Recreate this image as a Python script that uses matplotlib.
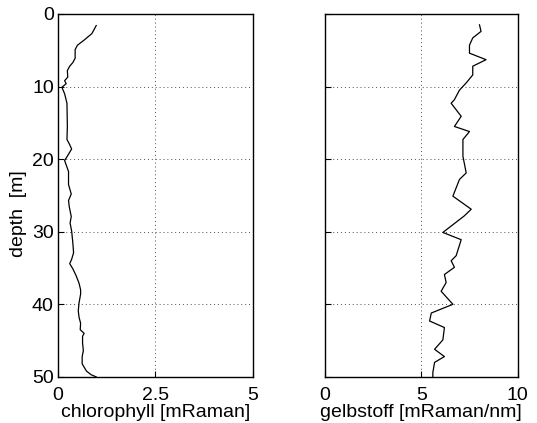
import numpy as np
import matplotlib.pyplot as plt

plt.rcParams['font.family'] = ['Liberation Sans', 'DejaVu Sans']

# chlorophyll profile [mRaman] vs depth [m]
chl_depth = [1.6, 2.7, 3.6, 4.3, 4.9, 6.1, 6.7, 7.2, 7.8, 8.7, 9.2, 9.6, 10.1, 11.0, 12.3,
             15.5, 17.3, 17.9, 18.6, 19.5, 20.2, 20.8, 21.7, 23.5, 24.8, 25.7, 26.6, 27.9,
             28.8, 29.9, 31.5, 32.9, 33.8, 34.4, 35.1, 36.0, 37.1, 38.0, 38.6, 39.8, 40.9,
             41.8, 42.6, 43.5, 44.0, 44.4, 45.3, 46.4, 47.2, 48.2, 49.2, 49.7, 50.0]
chl_val = [0.98, 0.87, 0.67, 0.50, 0.44, 0.44, 0.38, 0.30, 0.24, 0.25, 0.17, 0.21, 0.10, 0.17, 0.23,
           0.24, 0.23, 0.29, 0.35, 0.25, 0.17, 0.21, 0.27, 0.27, 0.34, 0.27, 0.29, 0.34,
           0.31, 0.35, 0.38, 0.40, 0.35, 0.30, 0.38, 0.46, 0.54, 0.58, 0.58, 0.54, 0.52,
           0.54, 0.58, 0.57, 0.67, 0.63, 0.63, 0.65, 0.62, 0.62, 0.73, 0.85, 0.98]

# gelbstoff profile [mRaman/nm] vs depth [m]
gelb_depth = [1.5, 2.4, 3.3, 4.3, 5.4, 6.3, 7.2, 8.4, 9.5, 10.5, 11.8, 12.3, 14.1, 15.5,
              16.2, 17.3, 19.6, 21.9, 22.8, 25.1, 26.9, 27.8, 30.1, 31.1, 33.3, 34.0,
              34.9, 35.9, 37.0, 38.2, 40.0, 41.2, 42.3, 43.2, 44.9, 46.2, 47.2, 48.0,
              49.4, 50.0]
gelb_val = [8.02, 8.10, 7.67, 7.50, 7.50, 8.36, 7.67, 7.67, 7.33, 6.98, 6.72, 6.55, 7.07, 6.72,
            7.50, 7.16, 7.16, 7.33, 6.98, 6.64, 7.59, 7.24, 6.12, 7.07, 6.81, 6.55,
            6.72, 6.20, 6.29, 6.03, 6.64, 5.52, 5.43, 6.20, 6.12, 5.69, 6.20, 5.69,
            5.60, 5.60]

depth_ticks = [0, 10, 20, 30, 40, 50]
chl_ticks = [0, 2.5, 5]
gelb_ticks = [0, 5, 10]

fig = plt.figure(figsize=(5.37, 4.23), dpi=100)
ax1 = fig.add_axes([0.108, 0.109, 0.363, 0.858])
ax2 = fig.add_axes([0.605, 0.109, 0.359, 0.858])

for ax in (ax1, ax2):
    ax.set_ylim(50, 0)
    ax.set_yticks(depth_ticks)
    ax.tick_params(direction='in', labelsize=14, length=4, width=0.8)
    ax.tick_params(axis='x', pad=7)
    ax.tick_params(axis='y', pad=3)
    ax.grid(True, linestyle=(0, (1, 3)), color='0.3', linewidth=0.7)
    for s in ax.spines.values():
        s.set_linewidth(1.0)

ax1.plot(chl_val, chl_depth, 'k-', linewidth=0.9)
ax1.set_xlim(0, 5)
ax1.set_xticks(chl_ticks)
ax1.set_xticklabels(['0', '2.5', '5'])
ax1.set_xlabel('chlorophyll [mRaman]', fontsize=14, labelpad=0)
ax1.set_ylabel('depth  [m]', fontsize=14)
ax1.yaxis.set_label_coords(-0.16, 0.45)

ax2.plot(gelb_val, gelb_depth, 'k-', linewidth=0.9)
ax2.set_xlim(0, 10)
ax2.set_xticks(gelb_ticks)
ax2.set_yticklabels([])
ax2.set_xlabel('gelbstoff [mRaman/nm]', fontsize=14, labelpad=0)

fig.savefig('out.png', dpi=100)
